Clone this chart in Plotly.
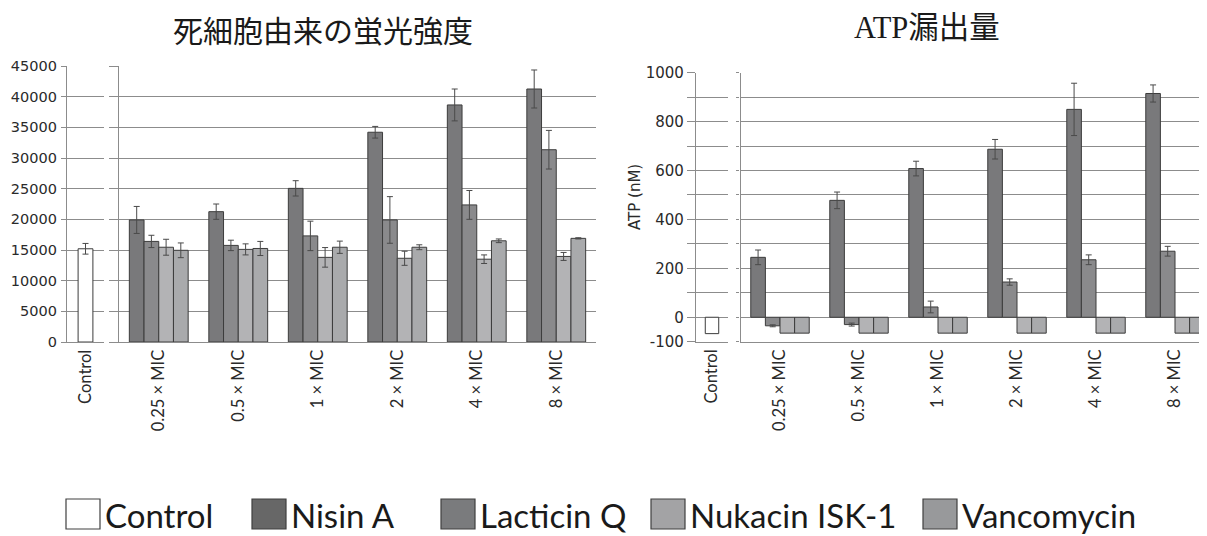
import plotly.graph_objects as go

# ---------------- data ----------------
categories = ["0.25 × MIC", "0.5 × MIC", "1 × MIC", "2 × MIC", "4 × MIC", "8 × MIC"]
control_label = ["Control"]
series_names = ["Nisin A", "Lacticin Q", "Nukacin ISK-1", "Vancomycin"]

# 死細胞由来の蛍光強度
fl_control = [15200]
fl_control_err = [870]
fl_nisin = [19900, 21250, 25050, 34200, 38650, 41250]
fl_nisin_err = [2200, 1250, 1250, 950, 2600, 3100]
fl_lacticin = [16400, 15750, 17300, 19900, 22350, 31350]
fl_lacticin_err = [1000, 850, 2400, 3800, 2350, 3150]
fl_nukacin = [15450, 15100, 13800, 13650, 13500, 13950]
fl_nukacin_err = [1300, 900, 1600, 1150, 700, 650]
fl_vanco = [14950, 15250, 15450, 15450, 16500, 16900]
fl_vanco_err = [1200, 1150, 1000, 400, 300, 100]

# ATP漏出量
atp_control = [-67]
atp_nisin = [245, 478, 608, 687, 850, 915]
atp_nisin_err = [30, 34, 30, 40, 107, 35]
atp_lacticin = [-35, -30, 42, 144, 235, 270]
atp_lacticin_err = [4, 6, 24, 13, 20, 20]
atp_nukacin = [-65, -65, -65, -65, -65, -65]
atp_vanco = [-65, -65, -65, -65, -65, -65]

fl_ticks = [0, 5000, 10000, 15000, 20000, 25000, 30000, 35000, 40000, 45000]
atp_tickvals = [-100, 0, 100, 200, 300, 400, 500, 600, 700, 800, 900, 1000]
atp_ticktext = ["-100", "0", "", "200", "", "400", "", "600", "", "800", "", "1000"]

# ---------------- style ----------------
PAGE_OFF = 8                     # default body margin of the html page
W, H = 1207 - PAGE_OFF, 536 - PAGE_OFF
bar_colors = ["#79797b", "#8a8a8c", "#b3b3b5", "#a9aaac"]
legend_colors = ["#ffffff", "#676767", "#7a7b7d", "#a3a3a5", "#98999b"]
outline = "#3c3c3c"
grid = "#8c8c8c"
txt = "#2a2a2a"
err_style = dict(type="data", color="#4a4a4a", thickness=1, width=3)


def fx(px):
    return (px - PAGE_OFF) / W


def fy(py):
    return 1 - (py - PAGE_OFF) / H


fig = go.Figure()

# left chart
fig.add_trace(go.Bar(x=control_label, y=fl_control, width=0.4,
                     marker=dict(color="#ffffff", line=dict(color=outline, width=1)),
                     error_y=dict(array=fl_control_err, **err_style),
                     xaxis="x", yaxis="y", showlegend=False))
fl_series = [(fl_nisin, fl_nisin_err), (fl_lacticin, fl_lacticin_err),
             (fl_nukacin, fl_nukacin_err), (fl_vanco, fl_vanco_err)]
for name, (vals, errs), col in zip(series_names, fl_series, bar_colors):
    fig.add_trace(go.Bar(x=categories, y=vals, name=name,
                         marker=dict(color=col, line=dict(color=outline, width=1)),
                         error_y=dict(array=errs, **err_style),
                         xaxis="x2", yaxis="y2", showlegend=False))

# right chart
fig.add_trace(go.Bar(x=control_label, y=atp_control, width=0.42,
                     marker=dict(color="#ffffff", line=dict(color=outline, width=1)),
                     xaxis="x3", yaxis="y3", showlegend=False))
atp_series = [(atp_nisin, atp_nisin_err), (atp_lacticin, atp_lacticin_err),
              (atp_nukacin, None), (atp_vanco, None)]
for name, (vals, errs), col in zip(series_names, atp_series, bar_colors):
    kw = {}
    if errs is not None:
        kw["error_y"] = dict(array=errs, **err_style)
    fig.add_trace(go.Bar(x=categories, y=vals, name=name,
                         marker=dict(color=col, line=dict(color=outline, width=1)),
                         xaxis="x4", yaxis="y4", showlegend=False, **kw))

xtick_font = dict(family="Lato, Noto Sans, sans-serif", size=16.5, color=txt)
ytick_font = dict(family="DejaVu Sans, Verdana, sans-serif", size=14.5, color=txt)

common_x = dict(tickangle=-90, tickfont=xtick_font, showline=True, linecolor=grid,
                linewidth=1.3, showgrid=False, ticks="", zeroline=False, fixedrange=True,
                automargin=False)

ly_dom = [fy(342), fy(66)]
ry_dom = [fy(341.7), fy(72.7)]

fig.update_layout(
    width=W, height=H,
    margin=dict(l=0, r=0, t=0, b=0, pad=0, autoexpand=False),
    paper_bgcolor="white", plot_bgcolor="rgba(0,0,0,0)",
    barmode="group", bargap=0.26, bargroupgap=0,
    showlegend=False,
    xaxis=dict(domain=[fx(67), fx(104)], anchor="y", range=[-0.5, 0.5], **common_x),
    yaxis=dict(domain=ly_dom, anchor="x", range=[0, 45000], tickmode="array",
               tickvals=fl_ticks, tickformat="d", tickfont=ytick_font, showgrid=True,
               gridcolor=grid, gridwidth=1.3, showline=True, linecolor=grid, linewidth=1.3,
               ticks="outside", ticklen=5, tickcolor=grid, tickwidth=1.3, zeroline=False,
               ticklabelstandoff=1, automargin=False),
    xaxis2=dict(domain=[fx(119), fx(596)], anchor="y2", range=[-0.5, 5.5], **common_x),
    yaxis2=dict(domain=ly_dom, anchor="x2", range=[0, 45000], tickmode="array",
                tickvals=fl_ticks, showticklabels=False, showgrid=True, gridcolor=grid,
                gridwidth=1.3, showline=True, linecolor=grid, linewidth=1.3,
                ticks="outside", ticklen=9, tickcolor=grid, tickwidth=1.3, zeroline=False,
                automargin=False),
    xaxis3=dict(domain=[fx(696), fx(728)], anchor="y3", range=[-0.5, 0.5], **common_x),
    yaxis3=dict(domain=ry_dom, anchor="x3", range=[-100, 1000], tickmode="array",
                tickvals=atp_tickvals, ticktext=atp_ticktext,
                tickfont=dict(family="DejaVu Sans, Verdana, sans-serif", size=15, color=txt),
                showgrid=True, gridcolor=grid, gridwidth=1.3, showline=True, linecolor=grid,
                linewidth=1.3, ticks="outside", ticklen=8, tickcolor=grid, tickwidth=1.3,
                zeroline=False, automargin=False),
    xaxis4=dict(domain=[fx(740.5), 1.0], anchor="y4", range=[-0.5, 5.405], **common_x),
    yaxis4=dict(domain=ry_dom, anchor="x4", range=[-100, 1000], tickmode="array",
                tickvals=atp_tickvals, showticklabels=False, showgrid=True, gridcolor=grid,
                gridwidth=1.3, showline=True, linecolor=grid, linewidth=1.3,
                ticks="outside", ticklen=3, tickcolor=grid, tickwidth=1.3, zeroline=False,
                automargin=False),
)

annotations = [
    dict(text="死細胞由来の蛍光強度", x=fx(323), y=fy(29), xref="paper", yref="paper",
         showarrow=False, xanchor="center", yanchor="middle",
         font=dict(family="Noto Sans CJK JP", size=30, color="#1a1a1a")),
    dict(text="ATP漏出量", x=fx(927), y=fy(28), xref="paper", yref="paper",
         showarrow=False, xanchor="center", yanchor="middle",
         font=dict(family="Liberation Serif, Noto Sans CJK JP", size=30.5, color="#1a1a1a")),
    dict(text="ATP (nM)", x=fx(635), y=fy(197), xref="paper", yref="paper",
         showarrow=False, textangle=-90, xanchor="center", yanchor="middle",
         font=dict(family="DejaVu Sans, Verdana, sans-serif", size=15, color=txt)),
]

# custom legend (large boxes as in the reference)
legend_names = ["Control"] + series_names
legend_box_x = [66, 252, 441, 651, 923]
shapes = []
for name, bx, col in zip(legend_names, legend_box_x, legend_colors):
    shapes.append(dict(type="rect", xref="paper", yref="paper",
                       x0=fx(bx), x1=fx(bx + 34), y0=fy(529), y1=fy(499),
                       fillcolor=col, line=dict(color="#404040", width=1.2)))
    annotations.append(dict(text=name, x=fx(bx + 37), y=fy(515), xref="paper", yref="paper",
                            showarrow=False, xanchor="left", yanchor="middle",
                            font=dict(family="Lato, sans-serif", size=33, color="#1a1a1a")))

fig.update_layout(annotations=annotations, shapes=shapes)
fig.write_html("out.html")
